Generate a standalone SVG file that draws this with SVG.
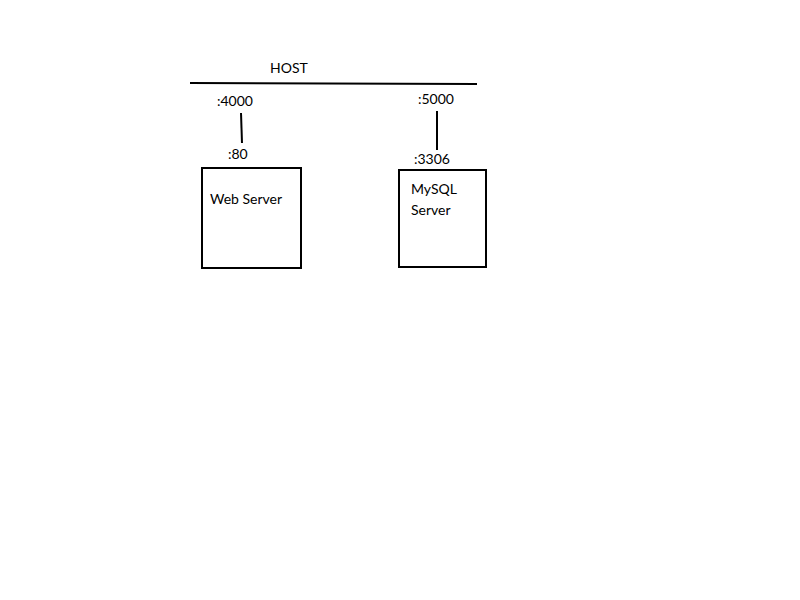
<svg xmlns="http://www.w3.org/2000/svg" width="800" height="600" viewBox="0 0 800 600">
<style>
text{font-family:Lato,"Open Sans","Liberation Sans",sans-serif;font-size:14px;fill:#000}
.ln{stroke:#000;stroke-width:2;fill:none}
.box{stroke:#000;stroke-width:2;fill:#fff}
</style>
<rect width="800" height="600" fill="#fff"/>
<g id="host">
<line class="ln" x1="190" y1="83" x2="477" y2="84"/>
<text x="270" y="73">HOST</text>
</g>
<g id="connectors">
<line class="ln" x1="241" y1="113" x2="242" y2="143"/>
<line class="ln" x1="437" y1="111" x2="437" y2="150"/>
</g>
<g id="ports">
<text x="217" y="106">:4000</text>
<text x="228" y="159">:80</text>
<text x="418" y="104">:5000</text>
<text x="414" y="164">:3306</text>
</g>
<g id="web-server">
<rect class="box" x="202" y="168" width="99" height="100"/>
<text x="210" y="204">Web Server</text>
</g>
<g id="mysql-server">
<rect class="box" x="399" y="170" width="87" height="97"/>
<text x="411" y="194">MySQL</text>
<text x="411" y="215">Server</text>
</g>
</svg>
